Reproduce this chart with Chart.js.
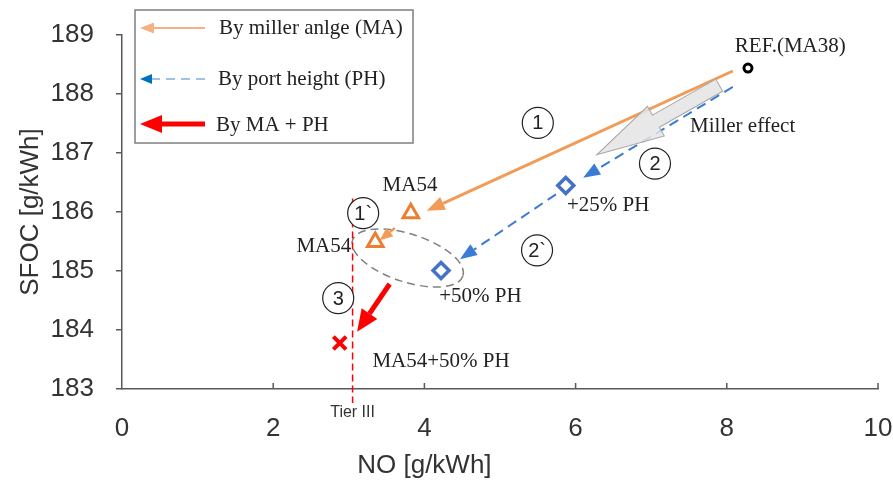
<!DOCTYPE html>
<html>
<head>
<meta charset="utf-8">
<script src="https://cdn.jsdelivr.net/npm/chart.js@4/dist/chart.umd.min.js"></script>
<style>
  html, body { margin: 0; padding: 0; background: #fff; }
  #wrap { width: 893px; height: 488px; }
</style>
</head>
<body>
<div id="wrap"><canvas id="grafico" width="893" height="488"></canvas></div>
<script>
// --- dados ---
const noRef = [8.28];
const sfocRef = [188.44];
const noMA = [3.82, 3.35];
const sfocMA = [185.98, 185.49];
const noPH = [5.87, 4.22];
const sfocPH = [186.45, 185.01];
const noMAPH = [2.88];
const sfocMAPH = [183.78];
const tierIII = 3.05;
const tierTop = 186.23;

// setas: [inicio, fim] em unidades do grafico
const setaMA = [[8.08, 188.39], [4.03, 186.02]];
const setaMA2 = [[3.61, 185.73], [3.41, 185.52]];
const setaPH = [[8.08, 188.12], [6.10, 186.58]];
const setaPH2 = [[5.74, 186.30], [4.47, 185.20]];
const setaMAPH = [[3.54, 184.78], [3.11, 183.97]];
const setaMiller = [[7.90, 188.15], [6.28, 186.97]];
const elipseCentro = [3.78, 185.22];

const rotulos = [
  { t: 'REF.(MA38)', x: 8.84, y: 188.81 },
  { t: 'Miller effect', x: 8.21, y: 187.45 },
  { t: 'MA54', x: 3.81, y: 186.45 },
  { t: 'MA54', x: 2.67, y: 185.42 },
  { t: '+25% PH', x: 6.43, y: 186.11 },
  { t: '+50% PH', x: 4.74, y: 184.56 },
  { t: 'MA54+50% PH', x: 4.22, y: 183.46 }
];
const circulos = [
  { t: '1', x: 5.50, y: 187.51 },
  { t: '2', x: 7.05, y: 186.82 },
  { t: '1`', x: 3.19, y: 185.98 },
  { t: '2`', x: 5.49, y: 185.35 },
  { t: '3', x: 2.86, y: 184.54 }
];

const xMin = 0, xMax = 10, xStep = 2;
const yMin = 183, yMax = 189, yStep = 1;
const tituloX = 'NO [g/kWh]';
const tituloXPos = 4.0;

const ORANGE = '#F29B56';
const ORANGE_PT = '#ED7D31';
const BLUE = '#3A7BD5';
const BLUE_PT = '#4472C4';
const RED = '#FF0000';
const AXIS = '#595959';
const TXT = '#333333';
const SANS = '"Liberation Sans", Arial, sans-serif';
const SERIF = '"Liberation Serif", "Times New Roman", serif';

function pontos(xs, ys) {
  return xs.map((v, i) => ({ x: v, y: ys[i] }));
}

function seta(ctx, x1, y1, x2, y2, o) {
  const ang = Math.atan2(y2 - y1, x2 - x1);
  const bx = x2 - Math.cos(ang) * o.head;
  const by = y2 - Math.sin(ang) * o.head;
  ctx.save();
  ctx.strokeStyle = o.line || o.color;
  ctx.lineWidth = o.width;
  ctx.setLineDash(o.dash || []);
  ctx.beginPath();
  ctx.moveTo(x1, y1);
  ctx.lineTo(bx, by);
  ctx.stroke();
  ctx.setLineDash([]);
  ctx.fillStyle = o.color;
  const nx = -Math.sin(ang) * o.hw / 2, ny = Math.cos(ang) * o.hw / 2;
  ctx.beginPath();
  ctx.moveTo(x2, y2);
  ctx.lineTo(bx + nx, by + ny);
  ctx.lineTo(bx - nx, by - ny);
  ctx.closePath();
  ctx.fill();
  ctx.restore();
}

const anotacoes = {
  id: 'anotacoes',
  beforeDatasetsDraw(chart) {
    const { ctx } = chart;
    const sx = chart.scales.x, sy = chart.scales.y;
    const px = v => sx.getPixelForValue(v), py = v => sy.getPixelForValue(v);

    // ticks do eixo x para dentro
    ctx.save();
    ctx.strokeStyle = AXIS;
    ctx.lineWidth = 1.5;
    for (let v = xMin + xStep; v <= xMax; v += xStep) {
      ctx.beginPath();
      ctx.moveTo(px(v), sy.bottom);
      ctx.lineTo(px(v), sy.bottom - 6);
      ctx.stroke();
    }
    ctx.restore();

    // titulo do eixo x (deslocado como no original)
    ctx.save();
    ctx.fillStyle = TXT;
    ctx.font = '26px ' + SANS;
    ctx.textAlign = 'center';
    ctx.textBaseline = 'middle';
    ctx.fillText(tituloX, px(tituloXPos), 466);
    ctx.restore();

    // elipse tracejada
    ctx.save();
    ctx.strokeStyle = '#808080';
    ctx.lineWidth = 1.5;
    ctx.setLineDash([8, 5]);
    ctx.beginPath();
    ctx.ellipse(px(elipseCentro[0]), py(elipseCentro[1]), 58, 24, 18 * Math.PI / 180, 0, Math.PI * 2);
    ctx.stroke();
    ctx.restore();

    // linha Tier III
    ctx.save();
    ctx.strokeStyle = RED;
    ctx.lineWidth = 1.5;
    ctx.setLineDash([7, 4]);
    ctx.beginPath();
    ctx.moveTo(px(tierIII), py(tierTop));
    ctx.lineTo(px(tierIII), sy.bottom + 14);
    ctx.stroke();
    ctx.restore();
    ctx.save();
    ctx.fillStyle = TXT;
    ctx.font = '16px ' + SANS;
    ctx.textAlign = 'center';
    ctx.textBaseline = 'middle';
    ctx.fillText('Tier III', px(tierIII), sy.bottom + 24);
    ctx.restore();

    // setas
    const s = (a, o) => seta(ctx, px(a[0][0]), py(a[0][1]), px(a[1][0]), py(a[1][1]), o);
    s(setaMA, { color: ORANGE, width: 3, head: 18, hw: 14 });
    s(setaMA2, { color: ORANGE, width: 2.5, head: 13, hw: 11 });
    s(setaPH, { color: BLUE, width: 2, head: 17, hw: 13, dash: [10, 6] });
    s(setaPH2, { color: BLUE, width: 2, head: 17, hw: 13, dash: [10, 6] });
    s(setaMAPH, { color: RED, width: 5, head: 22, hw: 19 });

    // seta larga "Miller effect"
    const x1 = px(setaMiller[0][0]), y1 = py(setaMiller[0][1]);
    const x2 = px(setaMiller[1][0]), y2 = py(setaMiller[1][1]);
    const ang = Math.atan2(y2 - y1, x2 - x1);
    const L = Math.hypot(x2 - x1, y2 - y1);
    const head = 68, sw = 7, hw = 17;
    ctx.save();
    ctx.translate(x1, y1);
    ctx.rotate(ang);
    ctx.beginPath();
    ctx.moveTo(0, -sw);
    ctx.lineTo(L - head, -sw);
    ctx.lineTo(L - head, -hw);
    ctx.lineTo(L, 0);
    ctx.lineTo(L - head, hw);
    ctx.lineTo(L - head, sw);
    ctx.lineTo(0, sw);
    ctx.closePath();
    ctx.fillStyle = 'rgba(228,228,228,0.85)';
    ctx.fill();
    ctx.strokeStyle = '#A6A6A6';
    ctx.lineWidth = 1;
    ctx.stroke();
    ctx.restore();
  },
  afterDatasetsDraw(chart) {
    const { ctx } = chart;
    const sx = chart.scales.x, sy = chart.scales.y;
    const px = v => sx.getPixelForValue(v), py = v => sy.getPixelForValue(v);

    ctx.save();
    ctx.fillStyle = '#222';
    ctx.font = '21px ' + SERIF;
    ctx.textAlign = 'center';
    ctx.textBaseline = 'middle';
    rotulos.forEach(r => ctx.fillText(r.t, px(r.x), py(r.y)));
    ctx.restore();

    ctx.save();
    circulos.forEach(c => {
      const cx = px(c.x), cy = py(c.y);
      ctx.fillStyle = '#fff';
      ctx.strokeStyle = '#222';
      ctx.lineWidth = 1.2;
      ctx.beginPath();
      ctx.arc(cx, cy, 15.5, 0, Math.PI * 2);
      ctx.fill();
      ctx.stroke();
      ctx.fillStyle = '#222';
      ctx.font = '20px ' + SANS;
      ctx.textAlign = 'center';
      ctx.textBaseline = 'middle';
      ctx.fillText(c.t, cx, cy + 1);
    });
    ctx.restore();

    // legenda
    ctx.save();
    ctx.fillStyle = '#fff';
    ctx.fillRect(135, 10, 278, 133);
    ctx.strokeStyle = '#7F7F7F';
    ctx.lineWidth = 1.5;
    ctx.strokeRect(135, 10, 278, 133);
    seta(ctx, 205, 28, 140, 28, { color: '#F4B183', width: 2, head: 14, hw: 11 });
    seta(ctx, 205, 79, 140, 79, { color: '#0070C0', line: '#9DC3E6', width: 2, head: 12, hw: 10, dash: [9, 6] });
    seta(ctx, 205, 124, 140, 124, { color: RED, width: 5, head: 22, hw: 18 });
    ctx.fillStyle = '#222';
    ctx.font = '21px ' + SERIF;
    ctx.textBaseline = 'middle';
    ctx.fillText('By miller anlge (MA)', 219, 28);
    ctx.fillText('By port height (PH)', 218, 79);
    ctx.fillText('By MA + PH', 216, 125);
    ctx.restore();
  }
};

new Chart(document.getElementById('grafico'), {
  type: 'scatter',
  data: {
    datasets: [
      { data: pontos(noRef, sfocRef), pointStyle: 'circle', pointRadius: 4, borderColor: '#000', backgroundColor: '#fff', borderWidth: 3 },
      { data: pontos(noRef, sfocRef), pointStyle: 'circle', pointRadius: 1.6, borderColor: '#000', backgroundColor: '#000', borderWidth: 0 },
      { data: pontos(noMA, sfocMA), pointStyle: 'triangle', pointRadius: 9, borderColor: ORANGE_PT, backgroundColor: '#fff', borderWidth: 3 },
      { data: pontos(noPH, sfocPH), pointStyle: 'rectRot', pointRadius: 8, borderColor: BLUE_PT, backgroundColor: '#fff', borderWidth: 3.5 },
      { data: pontos(noMAPH, sfocMAPH), pointStyle: 'crossRot', pointRadius: 9, borderColor: RED, backgroundColor: RED, borderWidth: 4 }
    ]
  },
  options: {
    responsive: false,
    animation: false,
    layout: { padding: { top: 35, right: 15, left: 0, bottom: 0 } },
    plugins: { legend: { display: false }, tooltip: { enabled: false } },
    scales: {
      x: {
        type: 'linear', min: xMin, max: xMax,
        ticks: { stepSize: xStep, color: TXT, font: { family: SANS, size: 26 }, padding: 24 },
        grid: { display: true, drawOnChartArea: false, drawTicks: false },
        border: { display: true, color: AXIS, width: 1.5 },
        afterFit: s => { s.height = 99; s.paddingLeft = 0; s.paddingRight = 0; }
      },
      y: {
        type: 'linear', min: yMin, max: yMax,
        ticks: { stepSize: yStep, color: TXT, font: { family: SANS, size: 26 }, padding: 22 },
        grid: { display: true, drawOnChartArea: false, drawTicks: true, tickLength: 6, color: AXIS, lineWidth: 1.5 },
        border: { display: true, color: AXIS, width: 1.5 },
        title: { display: true, text: 'SFOC [g/kWh]', color: TXT, font: { family: SANS, size: 26 }, padding: { top: 15, bottom: 0 } },
        afterFit: s => { s.width = 122; s.paddingTop = 0; s.paddingBottom = 0; }
      }
    }
  },
  plugins: [anotacoes]
});
</script>
</body>
</html>
